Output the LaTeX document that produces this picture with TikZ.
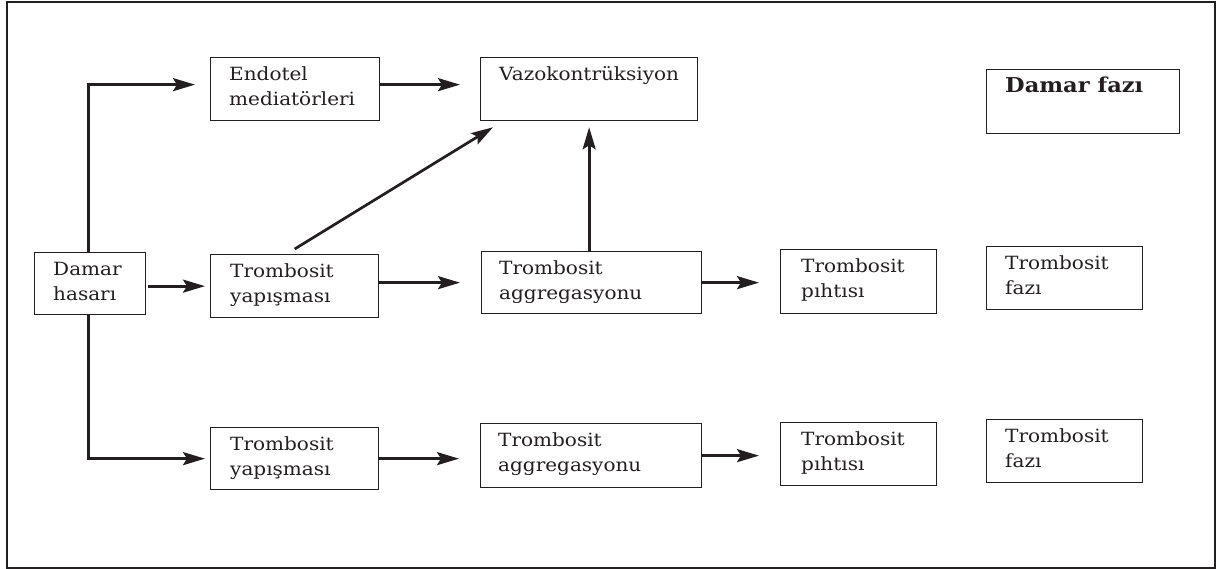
\documentclass[tikz,border=0pt]{standalone}
\usepackage{fontspec}
\setmainfont{DejaVu Serif}[FakeStretch=1.1]
\usetikzlibrary{arrows.meta}
\definecolor{ink}{RGB}{35,31,32}
\newcommand\twol[2]{\begin{tabular}[t]{@{}l@{}}#1\\#2\end{tabular}}
\tikzset{
  frame/.style={draw=ink, line width=2pt},
  box/.style 2 args={draw=ink, line width=1.3pt, rectangle, inner sep=0pt,
    minimum width=#1pt, minimum height=#2pt, anchor=north west},
  txt/.style={anchor=base west, inner sep=0pt, text=ink,
    font=\fontsize{18.2}{25}\selectfont},
  conn/.style={draw=ink, line width=2.7pt,
    -{Stealth[length=22pt,width=13pt,inset=4pt]}},
}
\begin{document}
\begin{tikzpicture}[x=1pt,y=-1pt]
\useasboundingbox (0,0) rectangle (1217,569);
\draw[frame] (7,2) rectangle (1215,568);

% boxes
\node[box={169}{63}] (endo) at (210,57) {};
\node[box={217}{63}] (vazo) at (480,57) {};
\node[box={193}{64}] (dfaz) at (986,69) {};
\node[box={111}{62}] (dh)   at (34,252) {};
\node[box={168}{63}] (ty1)  at (210,254) {};
\node[box={220}{62}] (ag1)  at (481,251) {};
\node[box={156}{64}] (pt1)  at (780,249) {};
\node[box={156}{63}] (tf1)  at (986,246) {};
\node[box={168}{62}] (ty2)  at (210,427) {};
\node[box={221}{64}] (ag2)  at (480,423) {};
\node[box={156}{63}] (pt2)  at (780,422) {};
\node[box={156}{63}] (tf2)  at (986,419) {};

% box texts
\node[txt] (endo-t) at ([shift={(19pt,-24pt)}]endo.north west) {\twol{Endotel}{mediatörleri}};
\node[txt] (vazo-t) at ([shift={(19pt,-24pt)}]vazo.north west) {Vazokontrüksiyon};
\node[txt, font=\fontsize{20.5}{25}\selectfont\bfseries] (dfaz-t)
  at ([shift={(19pt,-24pt)}]dfaz.north west) {Damar fazı};
\node[txt] (dh-t)   at ([shift={(19pt,-23.5pt)}]dh.north west) {\twol{Damar}{hasarı}};
\node[txt] (ty1-t)  at ([shift={(20pt,-23.5pt)}]ty1.north west) {\twol{Trombosit}{yapışması}};
\node[txt] (ag1-t)  at ([shift={(18pt,-23.5pt)}]ag1.north west) {\twol{Trombosit}{aggregasyonu}};
\node[txt] (pt1-t)  at ([shift={(21pt,-23.5pt)}]pt1.north west) {\twol{Trombosit}{pıhtısı}};
\node[txt] (tf1-t)  at ([shift={(19pt,-23.5pt)}]tf1.north west) {\twol{Trombosit}{fazı}};
\node[txt] (ty2-t)  at ([shift={(20pt,-23.5pt)}]ty2.north west) {\twol{Trombosit}{yapışması}};
\node[txt] (ag2-t)  at ([shift={(18pt,-23.5pt)}]ag2.north west) {\twol{Trombosit}{aggregasyonu}};
\node[txt] (pt2-t)  at ([shift={(21pt,-23.5pt)}]pt2.north west) {\twol{Trombosit}{pıhtısı}};
\node[txt] (tf2-t)  at ([shift={(19pt,-23.5pt)}]tf2.north west) {\twol{Trombosit}{fazı}};

% connectors
\draw[conn, shorten >=15pt] ([xshift=-1.5pt]dh.north) |- ([yshift=4.5pt]endo.west);
\draw[conn, shorten >=20pt] ([yshift=4.5pt]endo.east) -- ([yshift=4.5pt]endo.east -| vazo.west);
\draw[conn, shorten <=2pt, shorten >=5pt] (dh.east |- ty1.west) -- (ty1.west);
\draw[conn, shorten >=21pt] (ty1.east |- ag1.west) -- (ag1.west);
\draw[conn, shorten >=21pt] (ag1.east) -- (ag1.east -| pt1.west);
\draw[conn, shorten >=6pt] (ag1.north -| vazo.south) -- (vazo.south);
\draw[conn] ([yshift=5pt]ty1.north) -- ([shift={(13pt,-6pt)}]vazo.south west);
\draw[conn, shorten >=5pt] ([xshift=-2pt]dh.south) |- (ty2.west);
\draw[conn, shorten >=21pt] (ty2.east) -- (ty2.east -| ag2.west);
\draw[conn, shorten >=21pt] (ag2.east) -- (ag2.east -| pt2.west);
\end{tikzpicture}
\end{document}
